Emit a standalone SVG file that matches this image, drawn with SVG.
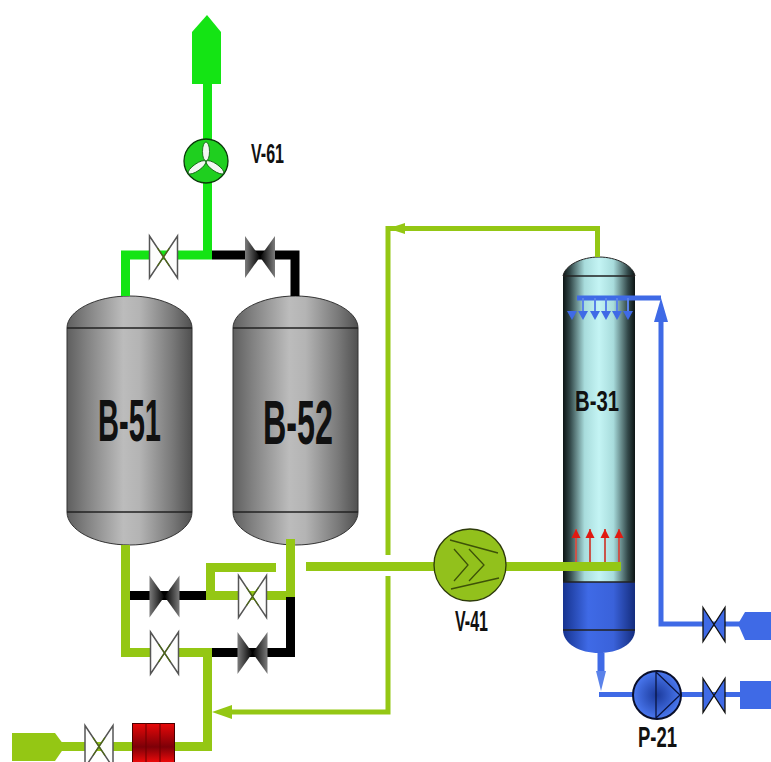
<svg xmlns="http://www.w3.org/2000/svg" width="771" height="762" viewBox="0 0 771 762">
<style>
.lbl{font-family:"Liberation Sans",Arial,sans-serif;font-weight:700;fill:#111;text-anchor:start}
.p{fill:none;stroke-linejoin:miter;stroke-linecap:butt}
.yg9{stroke:#94c714;stroke-width:9}.yg5{stroke:#94c714;stroke-width:5}
.gr{stroke:#14e414;stroke-width:9}
.bk{stroke:#000;stroke-width:9}
.bl{stroke:#3f6ae6;stroke-width:5}
.tl{stroke:#222;stroke-width:1.300;fill:none}
.vw{fill:#fdfdfd;stroke:#555;stroke-width:1.500}
.vwx{stroke:#4d6a10;stroke-width:1.200}
.vb{fill:#3f6ae6;stroke:#111;stroke-width:1.300}
</style>
<defs>
<linearGradient id="tank"><stop offset="0" stop-color="#5f5f5f"/><stop offset=".15" stop-color="#808080"/><stop offset=".45" stop-color="#bcbcbc"/><stop offset=".58" stop-color="#b4b4b4"/><stop offset=".85" stop-color="#777"/><stop offset="1" stop-color="#505050"/></linearGradient>
<linearGradient id="col"><stop offset="0" stop-color="#0c1414"/><stop offset=".1" stop-color="#33494a"/><stop offset=".3" stop-color="#a8dcdc"/><stop offset=".5" stop-color="#c4f4f4"/><stop offset=".7" stop-color="#a8dcdc"/><stop offset=".9" stop-color="#33494a"/><stop offset="1" stop-color="#0c1414"/></linearGradient>
<linearGradient id="colb"><stop offset="0" stop-color="#16338f"/><stop offset=".35" stop-color="#3f6ae6"/><stop offset=".7" stop-color="#3a62da"/><stop offset="1" stop-color="#142c7d"/></linearGradient>
<linearGradient id="heat" x1="0" y1="0" x2="0" y2="1"><stop offset="0" stop-color="#e80808"/><stop offset=".6" stop-color="#7d0008"/><stop offset="1" stop-color="#ee0a0a"/></linearGradient>
<linearGradient id="dl"><stop offset="0" stop-color="#7c7c7c"/><stop offset="1" stop-color="#000"/></linearGradient>
<linearGradient id="dr"><stop offset="0" stop-color="#000"/><stop offset="1" stop-color="#7c7c7c"/></linearGradient>
<radialGradient id="pump"><stop offset="0" stop-color="#1b3a9c"/><stop offset="1" stop-color="#4a78f0"/></radialGradient>
<g id="vw"><path class="vw" d="M-14,-21 L14,21 V-21 L-14,21 Z"/><path class="vwx" d="M-6,-9 L6,9 M6,-9 L-6,9"/></g>
<g id="vd"><path fill="url(#dl)" d="M-15,-21 L0,0 L-15,21 Z"/><path fill="url(#dr)" d="M15,-21 L0,0 L15,21 Z"/></g>
<g id="vbl"><path class="vb" d="M-11,-17 L11,17 V-17 L-11,17 Z"/></g>
<path id="dn" d="M-5,-9 H5 L0,0 Z" fill="#3f6ae6"/>
<g id="up"><path d="M0,0 V33" stroke="#c9544a" stroke-width="2" fill="none"/><path d="M-4.500,9 H4.500 L0,0 Z" fill="#e01a12"/></g>
</defs>

<g id="B-51">
<path fill="url(#tank)" stroke="#333" stroke-width="1" d="M67,328 C67,311 95,296 129.500,296 C164,296 192,311 192,328 V512 C192,530 164,545 129.500,545 C95,545 67,530 67,512 Z"/>
<path class="tl" d="M67,328 H192 M67,512 H192"/>
<text class="lbl" x="98" y="441" font-size="60" textLength="63" lengthAdjust="spacingAndGlyphs">B-51</text>
</g>
<g id="B-52">
<path fill="url(#tank)" stroke="#333" stroke-width="1" d="M233,328 C233,311 261,296 295.500,296 C330,296 358,311 358,328 V512 C358,530 330,545 295.500,545 C261,545 233,530 233,512 Z"/>
<path class="tl" d="M233,328 H358 M233,512 H358"/>
<text class="lbl" x="263" y="444" font-size="63" textLength="70" lengthAdjust="spacingAndGlyphs">B-52</text>
</g>
<g id="B-31">
<path fill="url(#col)" d="M563,582 V276 C565,265 582,257 599,257 C616,257 633,265 635,276 V582 Z"/>
<path fill="url(#colb)" d="M563,582 H635 V630 C635,644 618,653 599,653 C580,653 563,644 563,630 Z"/>
<path class="tl" d="M563,276 H635 M563,630 H635 M563,582 H635"/>
<path d="M563,276 C565,265 582,257 599,257 C616,257 633,265 635,276" fill="none" stroke="#222" stroke-width="1"/>
<text class="lbl" x="575" y="411" font-size="30" textLength="44" lengthAdjust="spacingAndGlyphs">B-31</text>
</g>

<g id="connectors">
<path class="p gr" d="M207.500,84 V255 M212,255 H125.500 V296"/>
<path class="p bk" d="M212,255 H295 V296"/>
<path class="p yg9" d="M125.500,545 V652.500 H150"/>
<path class="p bk" d="M130,595.500 H206"/>
<path class="p yg9" d="M276,567.500 H210.500 V595.500 H290.500 M290.500,539 V600"/>
<path class="p bk" d="M290.500,597 V652.500 H210"/>
<path class="p yg9" d="M179,652.500 H207.500 V746.500 H175"/>
<path class="p yg9" d="M306,566.500 H621"/>
<path class="p yg5" d="M388,555 V228.500 H597.500 V257 M388,576 V712 H228"/>
<path fill="#94c714" d="M212,712 L232,705 V719 Z"/>
<path fill="#94c714" d="M388,228.500 L405,223 V234 Z"/>
<path class="p yg9" d="M60,746.500 H132"/>
<path fill="#94c714" d="M12,733 H55 L65,746.500 L55,761 H12 Z"/>
<path fill="#14e414" d="M207,15 L221,32 V84 H192 V32 Z"/>
<path class="p bl" d="M577,298 H661 M661,315 V624 H740"/>
<path fill="#3f6ae6" d="M661,298 L668,322 H654 Z"/>
<path class="p" stroke="#5a82ea" stroke-width="2" fill="none" d="M583,298 V314 M595,298 V314 M606,298 V314 M617,298 V314 M628,298 V314"/>
<use href="#dn" x="572" y="320"/><use href="#dn" x="583" y="320"/><use href="#dn" x="595" y="320"/><use href="#dn" x="606" y="320"/><use href="#dn" x="617" y="320"/><use href="#dn" x="628" y="320"/>
<use href="#up" x="576" y="529"/><use href="#up" x="590" y="529"/><use href="#up" x="605" y="529"/><use href="#up" x="619" y="529"/>
<path fill="#3f6ae6" d="M738,624 L745,612 H771 V640 H745 Z"/>
<path class="p" stroke="#3f6ae6" stroke-width="7" fill="none" d="M601,653 V672"/>
<path fill="#5a82ea" d="M596,671 H606 L601,691 Z"/>
<path class="p bl" d="M599,694.500 H740"/>
<rect x="740" y="681" width="31" height="28" fill="#3f6ae6"/>
</g>

<g id="V-61">
<circle cx="206" cy="161" r="22" fill="#1fcf1f" stroke="#0a3a0a" stroke-width="1.300"/>
<g fill="#f2f7f2" stroke="#0a5a0a" stroke-width=".8">
<ellipse cx="206" cy="151.500" rx="3.500" ry="9.500"/>
<ellipse cx="206" cy="150" rx="3.500" ry="10.500" transform="rotate(125 206 161)"/>
<ellipse cx="206" cy="150" rx="3.500" ry="10.500" transform="rotate(235 206 161)"/>
</g>
<text class="lbl" x="251" y="163" font-size="28" textLength="33" lengthAdjust="spacingAndGlyphs">V-61</text>
</g>
<g id="V-41">
<circle cx="470" cy="565" r="36" fill="#92c11c" stroke="#2d3a0a" stroke-width="1.300"/>
<path fill="none" stroke="#3d5208" stroke-width="1.300" d="M450,540 L498,553 M451,589 L499,578 M454,549 L468,565 L454,581 M469,549 L484,565 L469,581"/>
<text class="lbl" x="455" y="631" font-size="29" textLength="33" lengthAdjust="spacingAndGlyphs">V-41</text>
</g>
<g id="P-21">
<circle cx="657" cy="695" r="24" fill="url(#pump)" stroke="#0a0f2a" stroke-width="2"/>
<path fill="none" stroke="#0a1440" stroke-width="1.300" d="M656,671 V719 M656,672 L680,695 L656,718"/>
<text class="lbl" x="638" y="747" font-size="29" textLength="39" lengthAdjust="spacingAndGlyphs">P-21</text>
</g>
<g id="valve-1"><use href="#vw" x="163.500" y="257"/></g>
<g id="valve-2"><use href="#vd" x="260" y="257"/></g>
<g id="valve-3"><use href="#vd" x="164.500" y="596.500"/></g>
<g id="valve-4"><use href="#vw" x="252.500" y="596.500"/></g>
<g id="valve-5"><use href="#vw" x="164.500" y="653"/></g>
<g id="valve-6"><use href="#vd" x="252.500" y="653"/></g>
<g id="valve-7"><use href="#vw" x="99" y="746.500"/></g>
<g id="valve-8"><use href="#vbl" x="714" y="624.500"/></g>
<g id="valve-9"><use href="#vbl" x="714" y="695.500"/></g>
<g id="heater">
<rect x="132.500" y="723.500" width="42" height="39" fill="url(#heat)" stroke="#4a0000"/>
<path stroke="#6a0000" fill="none" d="M146,723 V762 M160,723 V762"/>
</g>
</svg>
